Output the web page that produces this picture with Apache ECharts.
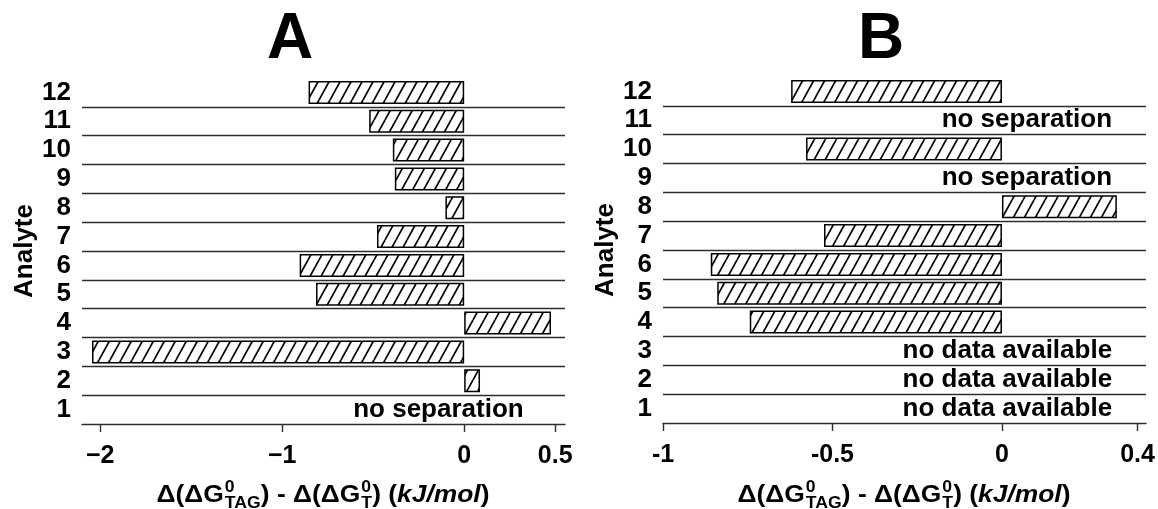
<!DOCTYPE html>
<html><head><meta charset="utf-8">
<script src="https://cdn.jsdelivr.net/npm/echarts@6/dist/echarts.min.js"></script>
<style>html,body{margin:0;padding:0;background:#fff}#c{width:1158px;height:509px}</style>
</head><body><div id="c"></div>
<script>
// ---------- data ----------
const analytes = ['1','2','3','4','5','6','7','8','9','10','11','12'];
const valuesA = [null, 0.087, -2.045, 0.477, -0.814, -0.904, -0.479, -0.103, -0.381, -0.392, -0.522, -0.855];
const valuesB = [null, null, null, -0.744, -0.840, -0.859, -0.525, 0.339, null, -0.578, null, -0.622];
const notesA = [{analyte:'1', text:'no separation'}];
const notesB = [
  {analyte:'11', text:'no separation'},
  {analyte:'9', text:'no separation'},
  {analyte:'3', text:'no data available'},
  {analyte:'2', text:'no data available'},
  {analyte:'1', text:'no data available'}
];
const tickValuesA = [-2, -1, 0, 0.5];
const tickLabelsA = ['\u22122', '\u22121', '0', '0.5'];
const tickValuesB = [-1, -0.5, 0, 0.4];
const tickLabelsB = ['-1', '-0.5', '0', '0.4'];
const panelTitles = ['A', 'B'];
const yAxisName = 'Analyte';

// ---------- style ----------
const FONT = '"Liberation Sans", Arial, Helvetica, sans-serif';
const LINE = '#2e2e2e';

function hatchPattern() {
  const w = 11, h = 20;
  const c = document.createElement('canvas');
  c.width = w; c.height = h;
  const g = c.getContext('2d');
  g.fillStyle = '#fff'; g.fillRect(0, 0, w, h);
  g.strokeStyle = '#000'; g.lineWidth = 1.7;
  for (const o of [-w, 0, w]) { g.beginPath(); g.moveTo(o, h); g.lineTo(o + w, 0); g.stroke(); }
  return c;
}
const pattern = { image: hatchPattern(), repeat: 'repeat' };

function axisTitleEls(cx, midY) {
  const ctx = document.createElement('canvas').getContext('2d');
  const mainF = 'bold 24px ' + FONT, italF = 'italic bold 24px ' + FONT, smallF = 'bold 16px ' + FONT;
  const sx = 1.1;
  const parts = [
    {t:'\u0394(\u0394G', f:mainF},
    {sup:'0', sub:'TAG'},
    {t:') - \u0394(\u0394G', f:mainF},
    {sup:'0', sub:'T'},
    {t:') (', f:mainF},
    {t:'kJ/mol', f:italF},
    {t:')', f:mainF}
  ];
  let total = 0;
  parts.forEach(p => {
    if (p.t) { ctx.font = p.f; p.w = ctx.measureText(p.t).width; }
    else { ctx.font = smallF; p.w = Math.max(ctx.measureText(p.sup).width, ctx.measureText(p.sub).width) + 1; }
    total += p.w;
  });
  let x = cx - total * sx / 2;
  const els = [];
  parts.forEach(p => {
    if (p.t) {
      els.push({type:'text', x:x, y:midY, scaleX:sx, silent:true,
        style:{text:p.t, font:p.f, fill:'#000', textAlign:'left', textVerticalAlign:'middle'}});
    } else {
      els.push({type:'text', x:x + 1, y:midY - 7, scaleX:sx, silent:true,
        style:{text:p.sup, font:smallF, fill:'#000', textAlign:'left', textVerticalAlign:'middle'}});
      els.push({type:'text', x:x + 1, y:midY + 9, scaleX:sx, silent:true,
        style:{text:p.sub, font:smallF, fill:'#000', textAlign:'left', textVerticalAlign:'middle'}});
    }
    x += p.w * sx;
  });
  return els;
}

const grids = [
  {left:82, top:78, width:483, height:346},
  {left:663, top:77, width:483, height:346}
];

function xAxisCfg(idx, min, max, ticks, labels) {
  return {
    type:'value', gridIndex:idx, min:min, max:max,
    axisLine:{show:true, onZero:false, lineStyle:{color:LINE, width:1.4}},
    axisTick:{show:true, customValues:ticks, length:8, lineStyle:{color:LINE, width:1.4}},
    axisLabel:{show:true, customValues:ticks, margin:20, fontFamily:FONT, fontWeight:'bold', fontSize:25, color:'#000',
      formatter: v => { const i = ticks.findIndex(t => Math.abs(t - v) < 1e-9); return i >= 0 ? labels[i] : ''; }},
    splitLine:{show:false}
  };
}
function yAxisCfg(idx, gap) {
  return {
    type:'category', gridIndex:idx, data:analytes,
    axisLine:{show:false}, axisTick:{show:false, interval:0},
    axisLabel:{interval:0, margin:11, fontFamily:FONT, fontWeight:'bold', fontSize:26, color:'#000'},
    splitLine:{show:true, interval:0, showMaxLine:false, showMinLine:false, lineStyle:{color:LINE, width:1.4}},
    name:yAxisName, nameLocation:'middle', nameGap:gap,
    nameTextStyle:{fontFamily:FONT, fontWeight:'bold', fontSize:26, color:'#000'}
  };
}
function barSeries(idx, values) {
  return {
    type:'bar', xAxisIndex:idx, yAxisIndex:idx, data:values, barCategoryGap:'20%', silent:true,
    itemStyle:{color:pattern, borderColor:'#000', borderWidth:1.5}
  };
}
function noteSeries(idx, notes, anchor) {
  return {
    type:'scatter', xAxisIndex:idx, yAxisIndex:idx, symbolSize:0, silent:true,
    itemStyle:{opacity:1},
    data: notes.map(n => [anchor, n.analyte, n.text]),
    label:{show:true, position:'left', distance:0, formatter: p => p.data[2],
      fontFamily:FONT, fontWeight:'bold', fontSize:26, color:'#000', opacity:1}
  };
}

const chart = echarts.init(document.getElementById('c'), null, {renderer:'canvas'});
chart.setOption({
  animation:false,
  backgroundColor:'#fff',
  grid: grids,
  xAxis: [xAxisCfg(0, -2.1, 0.554, tickValuesA, tickLabelsA), xAxisCfg(1, -1, 0.425, tickValuesB, tickLabelsB)],
  yAxis: [yAxisCfg(0, 38), yAxisCfg(1, 43)],
  series: [barSeries(0, valuesA), barSeries(1, valuesB), noteSeries(0, notesA, 0.327), noteSeries(1, notesB, 0.325)],
  graphic: [
    {type:'text', x:290, y:40, silent:true, style:{text:panelTitles[0], font:'bold 64px ' + FONT, fill:'#000', textAlign:'center', textVerticalAlign:'middle'}},
    {type:'text', x:881, y:40, silent:true, style:{text:panelTitles[1], font:'bold 64px ' + FONT, fill:'#000', textAlign:'center', textVerticalAlign:'middle'}}
  ].concat(axisTitleEls(323, 495), axisTitleEls(904, 495))
});
</script>
</body></html>
